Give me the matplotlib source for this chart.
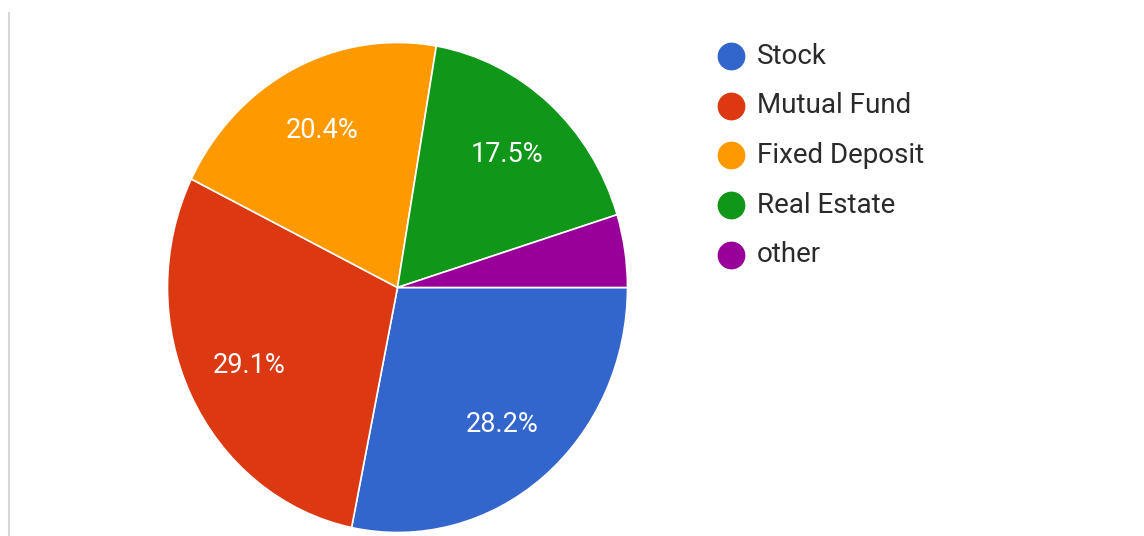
import matplotlib
matplotlib.use("Agg")
from matplotlib import pyplot as plt

# Investment preference survey
categories = ["Stock", "Mutual Fund", "Fixed Deposit", "Real Estate", "other"]
shares = [28.2, 29.1, 20.4, 17.5, 4.8]
colors = ["#3366cc", "#dc3912", "#ff9900", "#109618", "#990099"]

W, H = 1144, 536
plt.rcParams["font.family"] = ["Roboto", "DejaVu Sans"]

fig = plt.figure(figsize=(W / 100, H / 100), dpi=100)
fig.patch.set_facecolor("white")

# pie axes (slightly taller than wide, so the pie comes out as an ellipse)
cx, cy, rx, ry = 397.5, 287.5, 230, 245
ax = fig.add_axes([(cx - rx) / W, (H - cy - ry) / H, 2 * rx / W, 2 * ry / H])


def pct_label(p):
    # small slices get no label
    return f"{p:.1f}%" if p >= 5 else ""


wedges, _, autotexts = ax.pie(
    shares,
    colors=colors,
    startangle=0,
    counterclock=False,
    autopct=pct_label,
    pctdistance=0.72,
    wedgeprops=dict(edgecolor="white", linewidth=1.2),
    textprops=dict(color="white", fontsize=19.5),
)
ax.set_aspect("auto")
ax.set_xlim(-1, 1)
ax.set_ylim(-1, 1)
ax.axis("off")

# overlay in pixel coordinates for the legend and the left rule
lax = fig.add_axes([0, 0, 1, 1], zorder=-1)
lax.set_xlim(0, W)
lax.set_ylim(H, 0)
lax.axis("off")
lax.plot([9, 9], [13, H], color="#d6d6d6", linewidth=1.5)

leg_ax = fig.add_axes([0, 0, 1, 1])
leg_ax.set_xlim(0, W)
leg_ax.set_ylim(H, 0)
leg_ax.axis("off")
for i, (name, c) in enumerate(zip(categories, colors)):
    y = 56 + i * 49.7
    leg_ax.plot(731, y, marker="o", markersize=20, color=c, markeredgewidth=0)
    leg_ax.text(757, y, name, fontsize=20, color="#2a2a2a", va="center", ha="left")

fig.savefig("out.png", dpi=100)
